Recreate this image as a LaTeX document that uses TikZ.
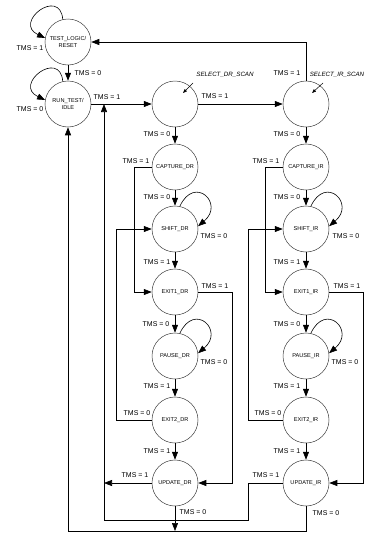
\documentclass[tikz,border=0pt]{standalone}
\usepackage{fontspec}
\setmainfont{Liberation Sans}
\usetikzlibrary{arrows.meta}

\begin{document}
\begin{tikzpicture}[
                x=1pt, y=1pt,
                state/.style={draw=black!75, circle, line width=0.5pt, minimum size=46pt, inner sep=0pt, align=center, font=\fontsize{5.6}{6.6}\selectfont},
                tms/.style={font=\fontsize{7}{8}\selectfont, inner sep=0pt},
                scan/.style={font=\fontsize{6.2}{7}\selectfont\itshape, inner sep=0pt},
                arrow/.style={-{Triangle[length=8pt,width=6pt]}, line width=0.6pt},
                pointer/.style={-{Triangle[length=4pt,width=3pt]}, line width=0.5pt}]
            \useasboundingbox (0,0) rectangle (386,-541);

            % Etats
            \node[state] (tlr) at (68,-42) {TEST\_LOGIC/\\RESET};
            \node[state] (rti) at (68,-104) {RUN\_TEST/\\IDLE};
            \node[state] (sdr) at (175,-104) {};
            \node[state] (sir) at (306,-104) {};
            \node[state] (cdr) at (175,-167) {CAPTURE\_DR};
            \node[state] (shdr) at (175,-229) {SHIFT\_DR};
            \node[state] (e1dr) at (175,-292) {EXIT1\_DR};
            \node[state] (pdr) at (175,-356) {PAUSE\_DR};
            \node[state] (e2dr) at (175,-420) {EXIT2\_DR};
            \node[state] (udr) at (175,-483) {UPDATE\_DR};
            \node[state] (cir) at (306,-167) {CAPTURE\_IR};
            \node[state] (shir) at (306,-229) {SHIFT\_IR};
            \node[state] (e1ir) at (306,-292) {EXIT1\_IR};
            \node[state] (pir) at (306,-356) {PAUSE\_IR};
            \node[state] (e2ir) at (306,-420) {EXIT2\_IR};
            \node[state] (uir) at (306,-483) {UPDATE\_IR};

            % Noms des etats SELECT
            \node[scan] (sdrlab) at (225,-75) {SELECT\_DR\_SCAN};
            \node[scan] (sirlab) at (337,-75) {SELECT\_IR\_SCAN};
            \coordinate (sdrp) at (193,-83);
            \coordinate (sdrq) at (183,-93);
            \coordinate (sirp) at (323,-83);
            \coordinate (sirq) at (312,-93);
            \draw[pointer] (sdrp) -- (sdrq);
            \draw[pointer] (sirp) -- (sirq);

            % Haut
            \draw[arrow] (tlr.103) .. controls +(95:33) and +(155:36) .. (tlr.170);
            \draw[arrow] (rti.103) .. controls +(95:33) and +(155:36) .. (rti.170);
            \draw[arrow] (tlr) -- (rti);
            \draw[arrow] (rti) -- (sdr);
            \draw[arrow] (sdr) -- (sir);
            \draw[arrow] (sir.north) |- (tlr.east);
            \draw[arrow] (sdr) -- (cdr);
            \draw[arrow] (sir) -- (cir);

            % Colonne DR
            \draw[arrow] (cdr) -- (shdr);
            \draw[arrow] (shdr.78) .. controls +(65:35) and +(40:35) .. (shdr.7);
            \draw[arrow] (shdr) -- (e1dr);
            \draw[arrow] (e1dr) -- (pdr);
            \draw[arrow] (pdr.78) .. controls +(65:35) and +(40:35) .. (pdr.7);
            \draw[arrow] (pdr) -- (e2dr);
            \draw[arrow] (e2dr) -- (udr);
            \draw[arrow] (cdr.west) -- ++(-17,0) |- (e1dr.west);
            \draw[arrow] (e2dr.west) -- ++(-35,0) |- (shdr.west);
            \draw[arrow] (e1dr.east) -- ++(34,0) |- (udr.east);

            % Colonne IR
            \draw[arrow] (cir) -- (shir);
            \draw[arrow] (shir.78) .. controls +(65:35) and +(40:35) .. (shir.7);
            \draw[arrow] (shir) -- (e1ir);
            \draw[arrow] (e1ir) -- (pir);
            \draw[arrow] (pir.78) .. controls +(65:35) and +(40:35) .. (pir.7);
            \draw[arrow] (pir) -- (e2ir);
            \draw[arrow] (e2ir) -- (uir);
            \draw[arrow] (cir.west) -- ++(-17,0) |- (e1ir.west);
            \draw[arrow] (e2ir.west) -- ++(-34,0) |- (shir.west);
            \draw[arrow] (e1ir.east) -- ++(34,0) |- (uir.east);

            % Retours (UPDATE vers SELECT_DR et RUN_TEST)
            \coordinate (sel) at (104,-104);
            \coordinate (bot) at (68,-531);
            \draw[arrow] (udr.west) -- (udr.west -| sel);
            \draw[arrow] (uir.west) -- ++(-34,0) -- ++(0,-37) -| (sel);
            \draw[arrow] (uir.south) |- (bot) -- (rti.south);
            \draw[arrow] (udr.south) -- (udr.south |- bot);

            % Etiquettes
            \node[tms] (lab1) at (30,-48) {TMS = 1};
            \node[tms] (lab2) at (88,-73) {TMS = 0};
            \node[tms] (lab3) at (30,-109) {TMS = 0};
            \node[tms] (lab4) at (107,-97) {TMS = 1};
            \node[tms] (lab5) at (215,-96) {TMS = 1};
            \node[tms] (lab6) at (287,-73) {TMS = 1};
            \node[tms] (lab7) at (157,-134) {TMS = 0};
            \node[tms] (lab8) at (287,-134) {TMS = 0};
            \node[tms] (lab9) at (136,-161) {TMS = 1};
            \node[tms] (lab10) at (157,-197) {TMS = 0};
            \node[tms] (lab11) at (214,-236) {TMS = 0};
            \node[tms] (lab12) at (157,-262) {TMS = 1};
            \node[tms] (lab13) at (215,-286) {TMS = 1};
            \node[tms] (lab14) at (156,-324) {TMS = 0};
            \node[tms] (lab15) at (214,-362) {TMS = 0};
            \node[tms] (lab16) at (157,-386) {TMS = 1};
            \node[tms] (lab17) at (137,-413) {TMS = 0};
            \node[tms] (lab18) at (157,-451) {TMS = 1};
            \node[tms] (lab19) at (135,-475) {TMS = 1};
            \node[tms] (lab20) at (193,-512) {TMS = 0};
            \node[tms] (lab21) at (266,-161) {TMS = 1};
            \node[tms] (lab22) at (287,-197) {TMS = 0};
            \node[tms] (lab23) at (346,-236) {TMS = 0};
            \node[tms] (lab24) at (287,-262) {TMS = 1};
            \node[tms] (lab25) at (347,-286) {TMS = 1};
            \node[tms] (lab26) at (287,-324) {TMS = 0};
            \node[tms] (lab27) at (345,-362) {TMS = 0};
            \node[tms] (lab28) at (287,-386) {TMS = 1};
            \node[tms] (lab29) at (268,-413) {TMS = 0};
            \node[tms] (lab30) at (287,-451) {TMS = 1};
            \node[tms] (lab31) at (266,-475) {TMS = 1};
            \node[tms] (lab32) at (326,-513) {TMS = 0};

        \end{tikzpicture}
\end{document}
